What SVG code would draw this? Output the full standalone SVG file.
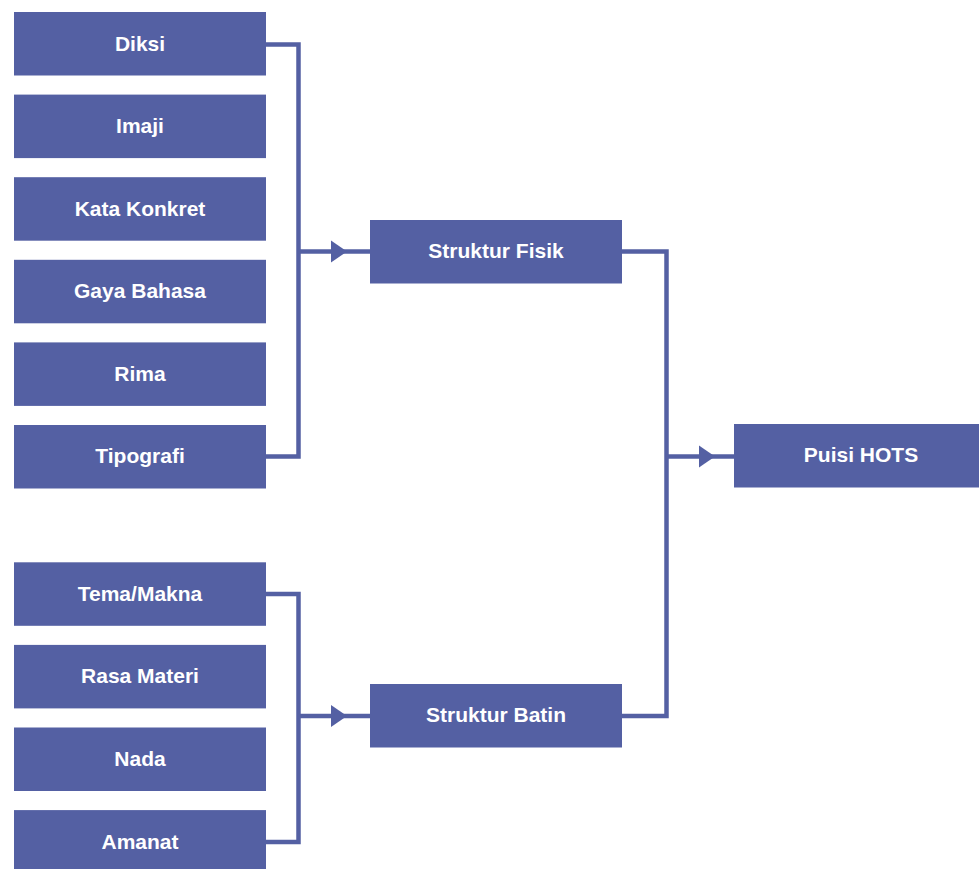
<svg xmlns="http://www.w3.org/2000/svg" width="979" height="869" viewBox="0 0 979 869">
  <style>
    .box { fill: #5460a3; }
    .lbl { fill: #ffffff; font-family: "Liberation Sans", Arial, Helvetica, sans-serif; font-weight: bold; font-size: 21px; text-anchor: middle; }
    .wire { fill: none; stroke: #5460a3; stroke-width: 4.5; stroke-linejoin: miter; stroke-linecap: butt; }
    .head { fill: #5460a3; }
  </style>
  <rect width="979" height="869" fill="#ffffff"/>

  <!-- connectors -->
  <g id="connectors">
    <!-- physical elements bracket -->
    <path class="wire" d="M266 44.5 H298.5 V456.5 H266"/>
    <path class="wire" d="M298.5 251.5 H370"/>
    <polygon class="head" points="331,240.5 347,251.5 331,262.5"/>
    <!-- inner elements bracket -->
    <path class="wire" d="M266 594 H298.5 V842 H266"/>
    <path class="wire" d="M298.5 716 H370"/>
    <polygon class="head" points="331,705 347,716 331,727"/>
    <!-- structures to result -->
    <path class="wire" d="M622 251.5 H666.5 V716 H622"/>
    <path class="wire" d="M666.5 456.5 H734"/>
    <polygon class="head" points="699,445.5 715,456.5 699,467.5"/>
  </g>

  <!-- left column: physical structure -->
  <g id="diksi"><rect class="box" x="14" y="12" width="252" height="63.5"/><text class="lbl" x="140" y="50.5">Diksi</text></g>
  <g id="imaji"><rect class="box" x="14" y="94.6" width="252" height="63.5"/><text class="lbl" x="140" y="133">Imaji</text></g>
  <g id="kata-konkret"><rect class="box" x="14" y="177.2" width="252" height="63.5"/><text class="lbl" x="140" y="215.6">Kata Konkret</text></g>
  <g id="gaya-bahasa"><rect class="box" x="14" y="259.8" width="252" height="63.5"/><text class="lbl" x="140" y="298.2">Gaya Bahasa</text></g>
  <g id="rima"><rect class="box" x="14" y="342.4" width="252" height="63.5"/><text class="lbl" x="140" y="380.8">Rima</text></g>
  <g id="tipografi"><rect class="box" x="14" y="425" width="252" height="63.5"/><text class="lbl" x="140" y="463.4">Tipografi</text></g>

  <!-- left column: inner structure -->
  <g id="tema-makna"><rect class="box" x="14" y="562.3" width="252" height="63.5"/><text class="lbl" x="140" y="600.7">Tema/Makna</text></g>
  <g id="rasa-materi"><rect class="box" x="14" y="644.9" width="252" height="63.5"/><text class="lbl" x="140" y="683.3">Rasa Materi</text></g>
  <g id="nada"><rect class="box" x="14" y="727.5" width="252" height="63.5"/><text class="lbl" x="140" y="765.9">Nada</text></g>
  <g id="amanat"><rect class="box" x="14" y="810.1" width="252" height="63.5"/><text class="lbl" x="140" y="848.5">Amanat</text></g>

  <!-- middle column -->
  <g id="struktur-fisik"><rect class="box" x="370" y="220" width="252" height="63.5"/><text class="lbl" x="496" y="258">Struktur Fisik</text></g>
  <g id="struktur-batin"><rect class="box" x="370" y="684" width="252" height="63.5"/><text class="lbl" x="496" y="722">Struktur Batin</text></g>

  <!-- result -->
  <g id="puisi-hots"><rect class="box" x="734" y="424" width="252" height="63.5"/><text class="lbl" x="861" y="462">Puisi HOTS</text></g>
</svg>
